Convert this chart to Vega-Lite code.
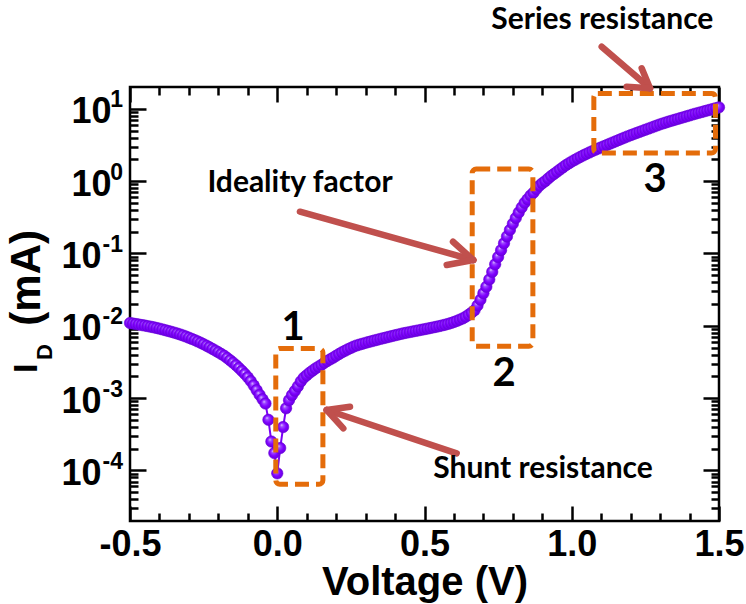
{
  "$schema": "https://vega.github.io/schema/vega-lite/v6.json",
  "width": 589,
  "height": 434,
  "autosize": {"type": "none"},
  "padding": {"left": 130, "top": 87, "right": 27, "bottom": 83},
  "background": "white",
  "config": {
    "view": {"stroke": "black", "strokeWidth": 2.5},
    "axis": {
      "domain": false, "grid": false, "tickColor": "black", "tickWidth": 2.5,
      "labelFont": "Liberation Sans", "labelFontWeight": "bold", "labelFontSize": 36, "labelColor": "black",
      "titleFont": "Liberation Sans", "titleFontWeight": "bold", "titleFontSize": 40, "titleColor": "black",
      "labelOverlap": false, "labelFlush": false
    }
  },
  "datasets": {
    "curve": [
      {"V": -0.5, "I": 0.01091}, {"V": -0.49, "I": 0.01074}, {"V": -0.48, "I": 0.01057}, {"V": -0.47, "I": 0.0104}, {"V": -0.46, "I": 0.01023},
      {"V": -0.45, "I": 0.01007}, {"V": -0.44, "I": 0.00989}, {"V": -0.43, "I": 0.00971}, {"V": -0.42, "I": 0.00953}, {"V": -0.41, "I": 0.00933},
      {"V": -0.4, "I": 0.00912}, {"V": -0.39, "I": 0.00891}, {"V": -0.38, "I": 0.00869}, {"V": -0.37, "I": 0.00847}, {"V": -0.36, "I": 0.00826},
      {"V": -0.35, "I": 0.00804}, {"V": -0.34, "I": 0.00782}, {"V": -0.33, "I": 0.00759}, {"V": -0.32, "I": 0.00735}, {"V": -0.31, "I": 0.0071},
      {"V": -0.3, "I": 0.00684}, {"V": -0.29, "I": 0.00659}, {"V": -0.28, "I": 0.00634}, {"V": -0.27, "I": 0.00608}, {"V": -0.26, "I": 0.00582},
      {"V": -0.25, "I": 0.00556}, {"V": -0.24, "I": 0.0053}, {"V": -0.23, "I": 0.00504}, {"V": -0.22, "I": 0.00479}, {"V": -0.21, "I": 0.00454},
      {"V": -0.2, "I": 0.00431}, {"V": -0.19, "I": 0.00407}, {"V": -0.18, "I": 0.00385}, {"V": -0.17, "I": 0.00359}, {"V": -0.16, "I": 0.00333},
      {"V": -0.15, "I": 0.00309}, {"V": -0.14, "I": 0.00285}, {"V": -0.13, "I": 0.00261}, {"V": -0.12, "I": 0.00238}, {"V": -0.11, "I": 0.00216},
      {"V": -0.1, "I": 0.00194}, {"V": -0.09, "I": 0.00172}, {"V": -0.08, "I": 0.0015}, {"V": -0.07, "I": 0.00129}, {"V": -0.06, "I": 0.00111},
      {"V": -0.05, "I": 0.000966}, {"V": -0.04, "I": 0.000841}, {"V": -0.03, "I": 0.000501}, {"V": -0.02, "I": 0.000251}, {"V": -0.01, "I": 0.000174},
      {"V": 0.0, "I": 0.0000912}, {"V": 0.01, "I": 0.000204}, {"V": 0.02, "I": 0.000398}, {"V": 0.03, "I": 0.000724}, {"V": 0.04, "I": 0.000933},
      {"V": 0.05, "I": 0.0011}, {"V": 0.06, "I": 0.00126}, {"V": 0.07, "I": 0.00145}, {"V": 0.08, "I": 0.0017}, {"V": 0.09, "I": 0.00191},
      {"V": 0.1, "I": 0.00207}, {"V": 0.11, "I": 0.00224}, {"V": 0.12, "I": 0.0024}, {"V": 0.13, "I": 0.00257}, {"V": 0.14, "I": 0.00272},
      {"V": 0.15, "I": 0.00288}, {"V": 0.16, "I": 0.00308}, {"V": 0.17, "I": 0.00326}, {"V": 0.18, "I": 0.00344}, {"V": 0.19, "I": 0.00363},
      {"V": 0.2, "I": 0.00385}, {"V": 0.21, "I": 0.00407}, {"V": 0.22, "I": 0.0043}, {"V": 0.23, "I": 0.00451}, {"V": 0.24, "I": 0.00473},
      {"V": 0.25, "I": 0.00495}, {"V": 0.26, "I": 0.00516}, {"V": 0.27, "I": 0.00535}, {"V": 0.28, "I": 0.0055}, {"V": 0.29, "I": 0.00565},
      {"V": 0.3, "I": 0.00581}, {"V": 0.31, "I": 0.00596}, {"V": 0.32, "I": 0.00611}, {"V": 0.33, "I": 0.00627}, {"V": 0.34, "I": 0.00641},
      {"V": 0.35, "I": 0.00658}, {"V": 0.36, "I": 0.00673}, {"V": 0.37, "I": 0.00689}, {"V": 0.38, "I": 0.00705}, {"V": 0.39, "I": 0.00721},
      {"V": 0.4, "I": 0.00738}, {"V": 0.41, "I": 0.00755}, {"V": 0.42, "I": 0.00773}, {"V": 0.43, "I": 0.00789}, {"V": 0.44, "I": 0.00804},
      {"V": 0.45, "I": 0.00818}, {"V": 0.46, "I": 0.00834}, {"V": 0.47, "I": 0.00849}, {"V": 0.48, "I": 0.00865}, {"V": 0.49, "I": 0.00881},
      {"V": 0.5, "I": 0.00897}, {"V": 0.51, "I": 0.00914}, {"V": 0.52, "I": 0.00931}, {"V": 0.53, "I": 0.00951}, {"V": 0.54, "I": 0.00968},
      {"V": 0.55, "I": 0.00989}, {"V": 0.56, "I": 0.01012}, {"V": 0.57, "I": 0.01035}, {"V": 0.58, "I": 0.01062}, {"V": 0.59, "I": 0.01091},
      {"V": 0.6, "I": 0.01127}, {"V": 0.61, "I": 0.01169}, {"V": 0.62, "I": 0.01216}, {"V": 0.63, "I": 0.01265}, {"V": 0.64, "I": 0.01334},
      {"V": 0.65, "I": 0.01419}, {"V": 0.66, "I": 0.01521}, {"V": 0.67, "I": 0.01641}, {"V": 0.68, "I": 0.01905}, {"V": 0.69, "I": 0.02291},
      {"V": 0.7, "I": 0.02818}, {"V": 0.71, "I": 0.03467}, {"V": 0.72, "I": 0.04365}, {"V": 0.73, "I": 0.05559}, {"V": 0.74, "I": 0.07079},
      {"V": 0.75, "I": 0.08913}, {"V": 0.76, "I": 0.1109}, {"V": 0.77, "I": 0.138}, {"V": 0.78, "I": 0.1718}, {"V": 0.79, "I": 0.2113},
      {"V": 0.8, "I": 0.257}, {"V": 0.81, "I": 0.309}, {"V": 0.82, "I": 0.3673}, {"V": 0.83, "I": 0.4315}, {"V": 0.84, "I": 0.5012},
      {"V": 0.85, "I": 0.5623}, {"V": 0.86, "I": 0.631}, {"V": 0.87, "I": 0.6918}, {"V": 0.88, "I": 0.7762}, {"V": 0.89, "I": 0.861},
      {"V": 0.9, "I": 0.9333}, {"V": 0.91, "I": 1.0}, {"V": 0.92, "I": 1.084}, {"V": 0.93, "I": 1.175}, {"V": 0.94, "I": 1.259},
      {"V": 0.95, "I": 1.349}, {"V": 0.96, "I": 1.445}, {"V": 0.97, "I": 1.549}, {"V": 0.98, "I": 1.66}, {"V": 0.99, "I": 1.758},
      {"V": 1.0, "I": 1.862}, {"V": 1.01, "I": 1.963}, {"V": 1.02, "I": 2.065}, {"V": 1.03, "I": 2.168}, {"V": 1.04, "I": 2.275},
      {"V": 1.05, "I": 2.382}, {"V": 1.06, "I": 2.489}, {"V": 1.07, "I": 2.6}, {"V": 1.08, "I": 2.71}, {"V": 1.09, "I": 2.818},
      {"V": 1.1, "I": 2.931}, {"V": 1.11, "I": 3.048}, {"V": 1.12, "I": 3.17}, {"V": 1.13, "I": 3.296}, {"V": 1.14, "I": 3.428},
      {"V": 1.15, "I": 3.565}, {"V": 1.16, "I": 3.707}, {"V": 1.17, "I": 3.855}, {"V": 1.18, "I": 3.999}, {"V": 1.19, "I": 4.159},
      {"V": 1.2, "I": 4.315}, {"V": 1.21, "I": 4.467}, {"V": 1.22, "I": 4.624}, {"V": 1.23, "I": 4.786}, {"V": 1.24, "I": 4.955},
      {"V": 1.25, "I": 5.129}, {"V": 1.26, "I": 5.309}, {"V": 1.27, "I": 5.495}, {"V": 1.28, "I": 5.689}, {"V": 1.29, "I": 5.888},
      {"V": 1.3, "I": 6.095}, {"V": 1.31, "I": 6.281}, {"V": 1.32, "I": 6.471}, {"V": 1.33, "I": 6.668}, {"V": 1.34, "I": 6.855},
      {"V": 1.35, "I": 7.047}, {"V": 1.36, "I": 7.244}, {"V": 1.37, "I": 7.447}, {"V": 1.38, "I": 7.656}, {"V": 1.39, "I": 7.87},
      {"V": 1.4, "I": 8.091}, {"V": 1.41, "I": 8.318}, {"V": 1.42, "I": 8.551}, {"V": 1.43, "I": 8.77}, {"V": 1.44, "I": 8.995},
      {"V": 1.45, "I": 9.226}, {"V": 1.46, "I": 9.462}, {"V": 1.47, "I": 9.705}, {"V": 1.48, "I": 9.954}, {"V": 1.49, "I": 10.21},
      {"V": 1.5, "I": 10.47}
    ],
    "boxes": [
      {"V": -0.005, "V2": 0.155, "I": 0.00485, "I2": 0.0000645},
      {"V": 0.662, "V2": 0.868, "I": 1.47, "I2": 0.0052},
      {"V": 1.075, "V2": 1.488, "I": 16.3, "I2": 2.45}
    ],
    "arrows": [
      {"V": 0.077, "I": 0.3776, "V2": 0.6657, "I2": 0.0811},
      {"V": 0.6657, "I": 0.0811, "V2": 0.5968, "I2": 0.1452},
      {"V": 0.6657, "I": 0.0811, "V2": 0.5754, "I2": 0.0692},
      {"V": 0.6093, "I": 0.0001726, "V2": 0.1679, "I2": 0.000684},
      {"V": 0.1679, "I": 0.000684, "V2": 0.247, "I2": 0.00076},
      {"V": 0.1679, "I": 0.000684, "V2": 0.2243, "I2": 0.000382},
      {"V": 1.1017, "I": 72.1, "V2": 1.2657, "I2": 19.19},
      {"V": 1.2657, "I": 19.19, "V2": 1.2375, "I2": 36.3},
      {"V": 1.2657, "I": 19.19, "V2": 1.1866, "I2": 20.2}
    ],
    "notes": [
      {"V": 1.104, "I": 168.7, "label": "Series resistance"},
      {"V": 0.0772, "I": 0.942, "label": "Ideality factor"},
      {"V": 0.9024, "I": 0.0001047, "label": "Shunt resistance"}
    ],
    "nums": [
      {"V": 0.0535, "I": 0.0093, "label": "1"},
      {"V": 0.77, "I": 0.00215, "label": "2"},
      {"V": 1.2827, "I": 1.035, "label": "3"}
    ],
    "expo": [
      {"V": -0.5238, "I": 13.11, "label": "1"},
      {"V": -0.5238, "I": 1.311, "label": "0"},
      {"V": -0.5238, "I": 0.1311, "label": "-1"},
      {"V": -0.5238, "I": 0.01311, "label": "-2"},
      {"V": -0.5238, "I": 0.001311, "label": "-3"},
      {"V": -0.5238, "I": 0.0001311, "label": "-4"}
    ],
    "ytI": [{"V": -0.8158, "I": 0.00222, "label": "I"}],
    "ytD": [{"V": -0.7649, "I": 0.00336, "label": "D"}],
    "ytU": [{"V": -0.8056, "I": 0.211, "label": "(mA)"}]
  },
  "layer": [
    {
      "data": {"name": "curve"},
      "mark": {"type": "line", "color": "#7a00f5", "strokeWidth": 2},
      "encoding": {
        "x": {"field": "V", "type": "quantitative", "scale": {"domain": [-0.5, 1.5], "nice": false, "zero": false},
          "axis": {"orient": "bottom", "values": [-0.5, -0.4, -0.3, -0.2, -0.1, 0, 0.1, 0.2, 0.3, 0.4, 0.5, 0.6, 0.7, 0.8, 0.9, 1.0, 1.1, 1.2, 1.3, 1.4, 1.5],
            "labels": false, "title": null,
            "tickSize": {"condition": {"test": "abs(datum.value*2 - round(datum.value*2)) < 0.001", "value": -15}, "value": -8}}},
        "y": {"field": "I", "type": "quantitative", "scale": {"type": "log", "domain": [0.00002, 20], "nice": false},
          "axis": {"orient": "left",
            "values": [0.00003, 0.00004, 0.00005, 0.00006, 0.00007, 0.00008, 0.00009, 0.0001, 0.0002, 0.0003, 0.0004, 0.0005, 0.0006, 0.0007, 0.0008, 0.0009, 0.001, 0.002, 0.003, 0.004, 0.005, 0.006, 0.007, 0.008, 0.009, 0.01, 0.02, 0.03, 0.04, 0.05, 0.06, 0.07, 0.08, 0.09, 0.1, 0.2, 0.3, 0.4, 0.5, 0.6, 0.7, 0.8, 0.9, 1, 2, 3, 4, 5, 6, 7, 8, 9, 10],
            "labels": false, "title": null,
            "tickSize": {"condition": {"test": "datum.value === 10 || datum.value === 1 || datum.value === 0.1 || datum.value === 0.01 || datum.value === 0.001 || datum.value === 0.0001", "value": -16}, "value": -8}}}
      }
    },
    {
      "data": {"name": "curve"},
      "mark": {"type": "point", "shape": "circle", "filled": true, "size": 130, "opacity": 1,
        "fill": {"gradient": "radial", "x1": 0.36, "y1": 0.32, "r1": 0, "x2": 0.5, "y2": 0.5, "r2": 0.55,
          "stops": [{"offset": 0, "color": "#efe2ff"}, {"offset": 0.22, "color": "#a050ff"}, {"offset": 0.6, "color": "#7f00ff"}, {"offset": 1, "color": "#6400d8"}]},
        "stroke": "#6800d8", "strokeWidth": 0.6},
      "encoding": {
        "x": {"field": "V", "type": "quantitative", "scale": {"domain": [-0.5, 1.5], "nice": false, "zero": false},
          "axis": {"orient": "top", "values": [-0.5, -0.4, -0.3, -0.2, -0.1, 0, 0.1, 0.2, 0.3, 0.4, 0.5, 0.6, 0.7, 0.8, 0.9, 1.0, 1.1, 1.2, 1.3, 1.4, 1.5],
            "labels": false, "title": null,
            "tickSize": {"condition": {"test": "abs(datum.value*2 - round(datum.value*2)) < 0.001", "value": -15}, "value": -8}}},
        "y": {"field": "I", "type": "quantitative", "scale": {"type": "log", "domain": [0.00002, 20], "nice": false},
          "axis": {"orient": "right",
            "values": [0.00003, 0.00004, 0.00005, 0.00006, 0.00007, 0.00008, 0.00009, 0.0001, 0.0002, 0.0003, 0.0004, 0.0005, 0.0006, 0.0007, 0.0008, 0.0009, 0.001, 0.002, 0.003, 0.004, 0.005, 0.006, 0.007, 0.008, 0.009, 0.01, 0.02, 0.03, 0.04, 0.05, 0.06, 0.07, 0.08, 0.09, 0.1, 0.2, 0.3, 0.4, 0.5, 0.6, 0.7, 0.8, 0.9, 1, 2, 3, 4, 5, 6, 7, 8, 9, 10],
            "labels": false, "title": null,
            "tickSize": {"condition": {"test": "datum.value === 10 || datum.value === 1 || datum.value === 0.1 || datum.value === 0.01 || datum.value === 0.001 || datum.value === 0.0001", "value": -16}, "value": -8}}}
      }
    },
    {
      "data": {"name": "boxes"},
      "mark": {"type": "rect", "fill": null, "filled": false, "stroke": "#e46c0a", "strokeWidth": 5, "strokeDash": [14, 7], "cornerRadius": 4},
      "encoding": {
        "x": {"field": "V", "type": "quantitative",
          "axis": {"orient": "bottom", "values": [-0.5, 0, 0.5, 1.0, 1.5], "ticks": false, "tickSize": 0, "format": ".1f",
            "labelExpr": "replace(datum.label, '−', '-')", "labelPadding": 6, "title": "Voltage (V)", "titlePadding": 0}},
        "x2": {"field": "V2"},
        "y": {"field": "I", "type": "quantitative",
          "axis": {"orient": "left", "values": [0.0001, 0.001, 0.01, 0.1, 1, 10], "ticks": false, "tickSize": 0,
            "labelExpr": "'10'", "labelBaseline": "middle", "labelOffset": 3,
            "labelPadding": {"condition": {"test": "datum.value >= 1", "value": 19}, "value": 29}, "title": null}},
        "y2": {"field": "I2"}
      }
    },
    {
      "data": {"name": "arrows"},
      "mark": {"type": "rule", "color": "#c0504d", "strokeWidth": 6.5, "strokeCap": "round"},
      "encoding": {
        "x": {"field": "V", "type": "quantitative", "axis": null},
        "x2": {"field": "V2"},
        "y": {"field": "I", "type": "quantitative", "axis": null},
        "y2": {"field": "I2"}
      }
    },
    {
      "data": {"name": "notes"},
      "mark": {"type": "text", "font": "Lato", "fontWeight": "bold", "fontSize": 30, "color": "black", "align": "center", "baseline": "middle"},
      "encoding": {
        "x": {"field": "V", "type": "quantitative", "axis": null},
        "y": {"field": "I", "type": "quantitative", "axis": null},
        "text": {"field": "label"}
      }
    },
    {
      "data": {"name": "nums"},
      "mark": {"type": "text", "font": "Lato", "fontWeight": "bold", "fontSize": 40, "color": "black", "align": "center", "baseline": "middle"},
      "encoding": {
        "x": {"field": "V", "type": "quantitative", "axis": null},
        "y": {"field": "I", "type": "quantitative", "axis": null},
        "text": {"field": "label"}
      }
    },
    {
      "data": {"name": "expo"},
      "mark": {"type": "text", "font": "Liberation Sans", "fontWeight": "bold", "fontSize": 23, "color": "black", "align": "right", "baseline": "middle"},
      "encoding": {
        "x": {"field": "V", "type": "quantitative", "axis": null},
        "y": {"field": "I", "type": "quantitative", "axis": null},
        "text": {"field": "label"}
      }
    },
    {
      "data": {"name": "ytI"},
      "mark": {"type": "text", "font": "Liberation Sans", "fontWeight": "bold", "fontSize": 34, "color": "black", "align": "left", "baseline": "alphabetic", "angle": 270},
      "encoding": {
        "x": {"field": "V", "type": "quantitative", "axis": null},
        "y": {"field": "I", "type": "quantitative", "axis": null},
        "text": {"field": "label"}
      }
    },
    {
      "data": {"name": "ytD"},
      "mark": {"type": "text", "font": "Liberation Sans", "fontWeight": "bold", "fontSize": 22, "color": "black", "align": "left", "baseline": "alphabetic", "angle": 270},
      "encoding": {
        "x": {"field": "V", "type": "quantitative", "axis": null},
        "y": {"field": "I", "type": "quantitative", "axis": null},
        "text": {"field": "label"}
      }
    },
    {
      "data": {"name": "ytU"},
      "mark": {"type": "text", "font": "Liberation Sans", "fontWeight": "bold", "fontSize": 42, "color": "black", "align": "right", "baseline": "alphabetic", "angle": 270},
      "encoding": {
        "x": {"field": "V", "type": "quantitative", "axis": null},
        "y": {"field": "I", "type": "quantitative", "axis": null},
        "text": {"field": "label"}
      }
    }
  ],
  "resolve": {"axis": {"x": "independent", "y": "independent"}}
}
